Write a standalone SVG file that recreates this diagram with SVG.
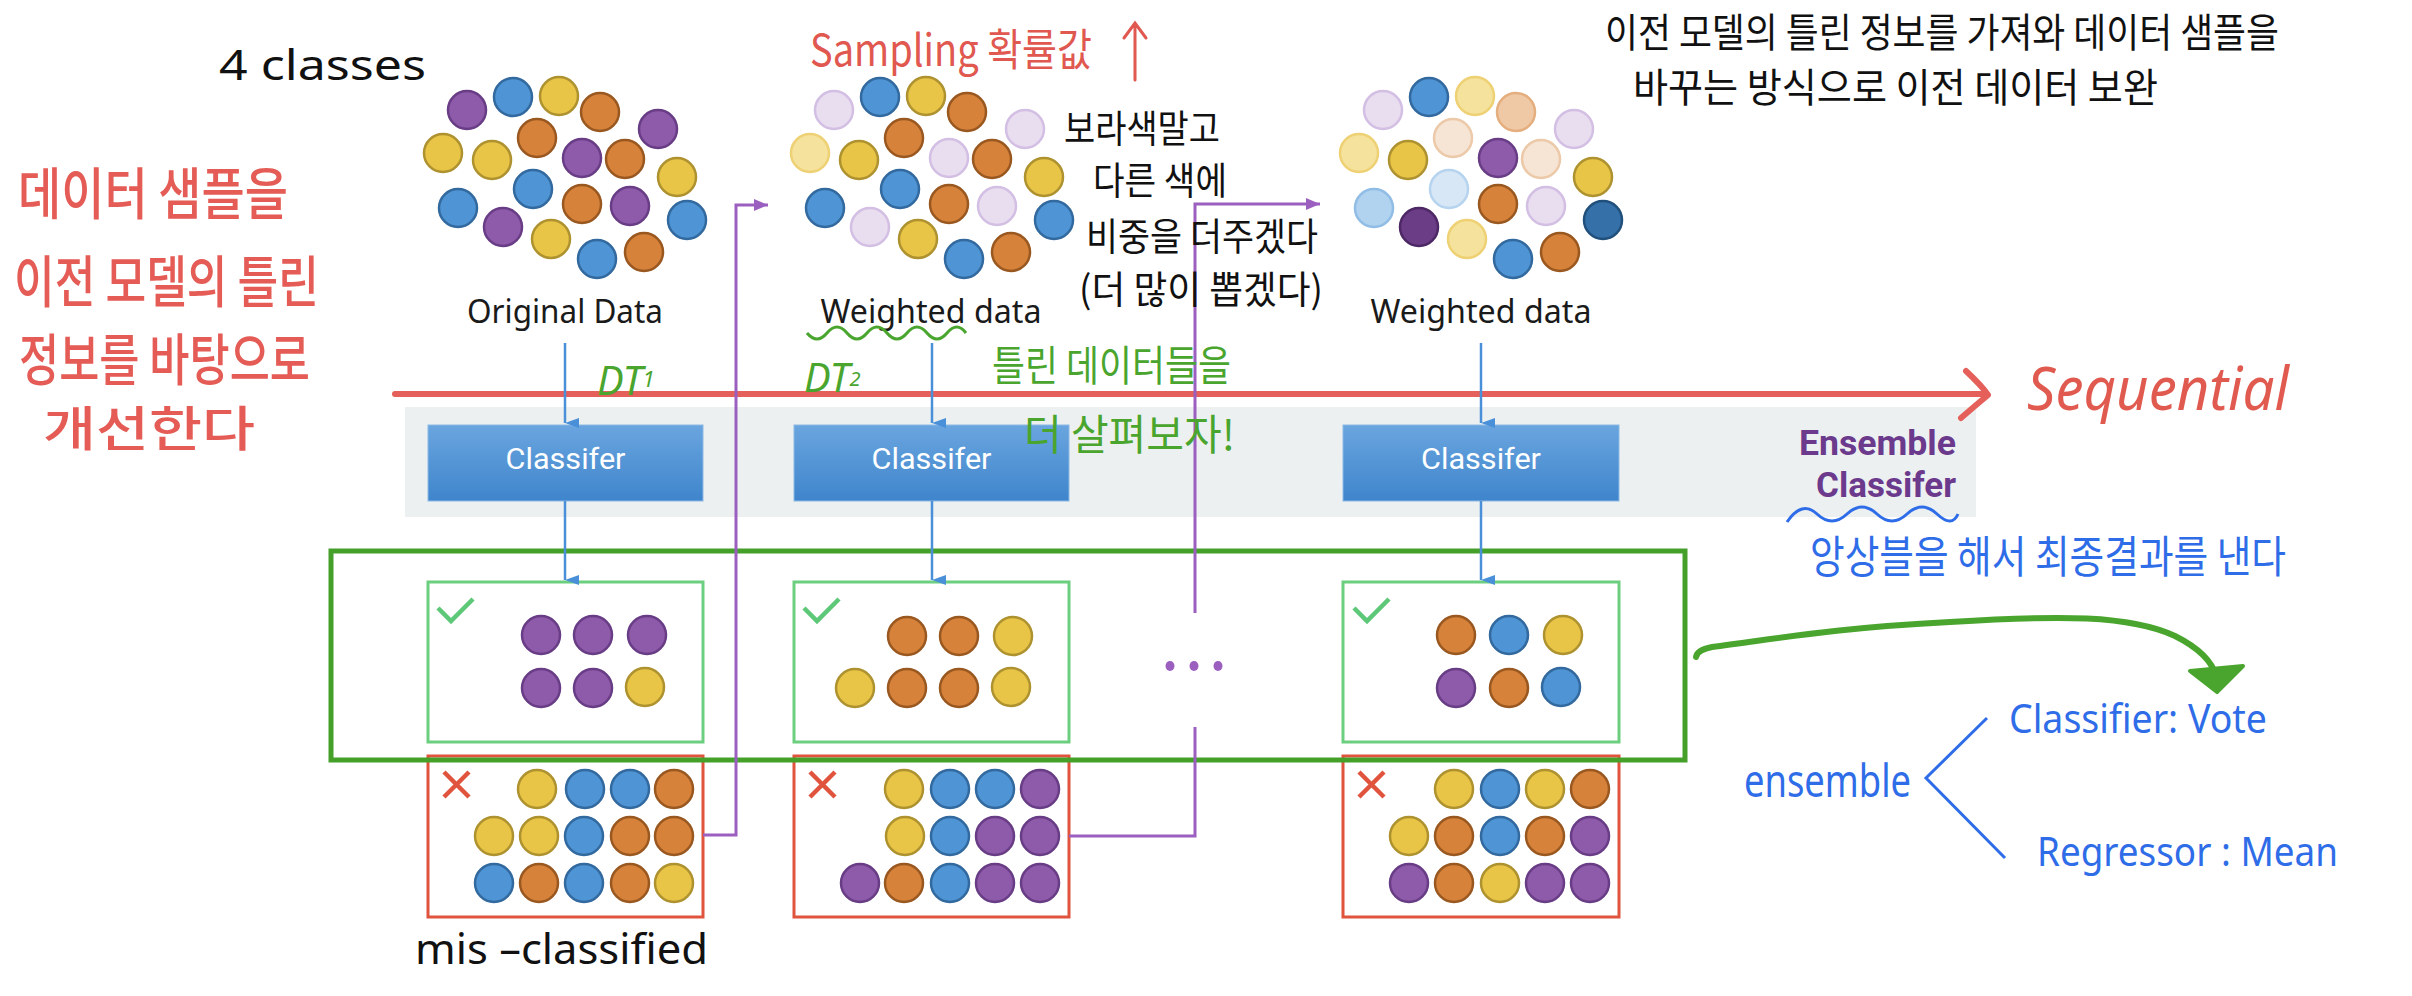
<svg xmlns="http://www.w3.org/2000/svg" width="2412" height="996" viewBox="0 0 2412 996">
<defs>
<style>
.p{fill:#8e5aaa;stroke:#693d86;stroke-width:2.5}
.b{fill:#4f94d4;stroke:#32699e;stroke-width:2.5}
.y{fill:#e8c547;stroke:#ae922f;stroke-width:2.5}
.o{fill:#d6823a;stroke:#9a5821;stroke-width:2.5}
.lp{fill:#e9ddf0;stroke:#d4bfe4;stroke-width:2.5}
.ly{fill:#f5e29c;stroke:#eed174;stroke-width:2.5}
.pe{fill:#f6e4d4;stroke:#ecc9a8;stroke-width:2.5}
.lo{fill:#efc9a5;stroke:#e4ae7e;stroke-width:2.5}
.lb{fill:#b2d3ef;stroke:#90bde6;stroke-width:2.5}
.vlb{fill:#d8e7f6;stroke:#b6d3ef;stroke-width:2.5}
.dp{fill:#6c3d87;stroke:#4d2865;stroke-width:2.5}
.db{fill:#3570a8;stroke:#22507c;stroke-width:2.5}
.lbl{font-family:"Noto Sans","Open Sans",sans-serif;font-size:32px;fill:#1a1a1a;text-anchor:middle}
.cls{font-family:Roboto,"Noto Sans",sans-serif;font-size:30px;fill:#ffffff;text-anchor:middle}
.hw{font-family:"Noto Sans","Noto Sans CJK KR",sans-serif}
.kr{font-family:"Noto Sans CJK KR","Noto Sans",sans-serif}
.ok{fill:#ffffff;stroke:#6ccf80;stroke-width:3}
.bad{fill:#ffffff;stroke:#e0533d;stroke-width:3}
.blue{stroke:#4a90d9;stroke-width:2.5;fill:none}
.purp{stroke:#9b5fc0;stroke-width:3;fill:none}
</style>
<linearGradient id="gb" x1="0" y1="0" x2="0" y2="1">
<stop offset="0" stop-color="#6aa5df"/>
<stop offset="1" stop-color="#3f85cc"/>
</linearGradient>
<marker id="ab" viewBox="0 0 10 14" refX="5" refY="14" markerWidth="10" markerHeight="14" markerUnits="userSpaceOnUse" orient="auto-start-reverse">
<path d="M0,0 L5,14 L10,0 Z" fill="#4a90d9"/>
</marker>
<marker id="ap" viewBox="0 0 14 12" refX="14" refY="6" markerWidth="14" markerHeight="12" markerUnits="userSpaceOnUse" orient="auto">
<path d="M0,0 L14,6 L0,12 Z" fill="#9b5fc0"/>
</marker>
</defs>
<rect width="2412" height="996" fill="#ffffff"/>

<!-- band -->
<rect id="band" x="405" y="407" width="1571" height="110" fill="#edf0f1"/>

<!-- Sequential arrow -->
<g id="sequential">
<path d="M395,394 H1984" stroke="#e5605a" stroke-width="6" stroke-linecap="round" fill="none"/>
<path d="M1966,371 Q1982,386 1988,395 Q1976,405 1961,418" stroke="#e5605a" stroke-width="6" stroke-linecap="round" stroke-linejoin="round" fill="none"/>
<text x="2027" y="410" class="hw" font-size="60" font-style="italic" fill="#e05a50" textLength="262" lengthAdjust="spacingAndGlyphs">Sequential</text>
</g>

<!-- data clouds -->
<g id="original-data">
<circle class="p" cx="467" cy="110" r="19"/><circle class="b" cx="513" cy="97" r="19"/><circle class="y" cx="559" cy="96" r="19"/><circle class="o" cx="600" cy="112" r="19"/><circle class="p" cx="658" cy="129" r="19"/>
<circle class="y" cx="443" cy="153" r="19"/><circle class="y" cx="492" cy="160" r="19"/><circle class="o" cx="537" cy="138" r="19"/><circle class="p" cx="582" cy="158" r="19"/><circle class="o" cx="625" cy="159" r="19"/>
<circle class="y" cx="677" cy="177" r="19"/><circle class="b" cx="533" cy="189" r="19"/><circle class="o" cx="582" cy="204" r="19"/><circle class="p" cx="630" cy="206" r="19"/><circle class="b" cx="687" cy="220" r="19"/>
<circle class="b" cx="458" cy="208" r="19"/><circle class="p" cx="503" cy="227" r="19"/><circle class="y" cx="551" cy="239" r="19"/><circle class="b" cx="597" cy="259" r="19"/><circle class="o" cx="644" cy="252" r="19"/>
<text class="lbl" x="565" y="323" textLength="196" lengthAdjust="spacingAndGlyphs">Original Data</text>
</g>
<g id="weighted-data-1" transform="translate(367,0)">
<circle class="lp" cx="467" cy="110" r="19"/><circle class="b" cx="513" cy="97" r="19"/><circle class="y" cx="559" cy="96" r="19"/><circle class="o" cx="600" cy="112" r="19"/><circle class="lp" cx="658" cy="129" r="19"/>
<circle class="ly" cx="443" cy="153" r="19"/><circle class="y" cx="492" cy="160" r="19"/><circle class="o" cx="537" cy="138" r="19"/><circle class="lp" cx="582" cy="158" r="19"/><circle class="o" cx="625" cy="159" r="19"/>
<circle class="y" cx="677" cy="177" r="19"/><circle class="b" cx="533" cy="189" r="19"/><circle class="o" cx="582" cy="204" r="19"/><circle class="lp" cx="630" cy="206" r="19"/><circle class="b" cx="687" cy="220" r="19"/>
<circle class="b" cx="458" cy="208" r="19"/><circle class="lp" cx="503" cy="227" r="19"/><circle class="y" cx="551" cy="239" r="19"/><circle class="b" cx="597" cy="259" r="19"/><circle class="o" cx="644" cy="252" r="19"/>
<text class="lbl" x="564" y="323" textLength="221" lengthAdjust="spacingAndGlyphs">Weighted data</text>
</g>
<g id="weighted-data-2" transform="translate(916,0)">
<circle class="lp" cx="467" cy="110" r="19"/><circle class="b" cx="513" cy="97" r="19"/><circle class="ly" cx="559" cy="96" r="19"/><circle class="lo" cx="600" cy="112" r="19"/><circle class="lp" cx="658" cy="129" r="19"/>
<circle class="ly" cx="443" cy="153" r="19"/><circle class="y" cx="492" cy="160" r="19"/><circle class="pe" cx="537" cy="138" r="19"/><circle class="p" cx="582" cy="158" r="19"/><circle class="pe" cx="625" cy="159" r="19"/>
<circle class="y" cx="677" cy="177" r="19"/><circle class="vlb" cx="533" cy="189" r="19"/><circle class="o" cx="582" cy="204" r="19"/><circle class="lp" cx="630" cy="206" r="19"/><circle class="db" cx="687" cy="220" r="19"/>
<circle class="lb" cx="458" cy="208" r="19"/><circle class="dp" cx="503" cy="227" r="19"/><circle class="ly" cx="551" cy="239" r="19"/><circle class="b" cx="597" cy="259" r="19"/><circle class="o" cx="644" cy="252" r="19"/>
<text class="lbl" x="565" y="323" textLength="221" lengthAdjust="spacingAndGlyphs">Weighted data</text>
</g>

<!-- classifiers -->
<g id="classifier-1"><rect x="428" y="425" width="275" height="76" fill="url(#gb)" stroke="#8cb9e6" stroke-width="1"/><text class="cls" x="565.5" y="469" textLength="120" lengthAdjust="spacingAndGlyphs">Classifer</text></g>
<g id="classifier-2"><rect x="794" y="425" width="275" height="76" fill="url(#gb)" stroke="#8cb9e6" stroke-width="1"/><text class="cls" x="931.5" y="469" textLength="120" lengthAdjust="spacingAndGlyphs">Classifer</text></g>
<g id="classifier-3"><rect x="1343" y="425" width="276" height="76" fill="url(#gb)" stroke="#8cb9e6" stroke-width="1"/><text class="cls" x="1481" y="469" textLength="120" lengthAdjust="spacingAndGlyphs">Classifer</text></g>
<g id="ensemble-label" font-family="Roboto,'Noto Sans',sans-serif" font-weight="bold" font-size="35" fill="#6b3a8c" text-anchor="end">
<text x="1956" y="455" textLength="157" lengthAdjust="spacingAndGlyphs">Ensemble</text>
<text x="1956" y="497" textLength="140" lengthAdjust="spacingAndGlyphs">Classifer</text>
</g>

<!-- result boxes -->
<g id="correct-1">
<rect class="ok" x="428" y="582" width="275" height="160"/>
<path d="M438,608 L451,621 L473,599" stroke="#5cc878" stroke-width="4.5" fill="none"/>
<circle class="p" cx="541" cy="635" r="19"/><circle class="p" cx="593" cy="635" r="19"/><circle class="p" cx="647" cy="635" r="19"/>
<circle class="p" cx="541" cy="688" r="19"/><circle class="p" cx="593" cy="688" r="19"/><circle class="y" cx="645" cy="687" r="19"/>
</g>
<g id="correct-2">
<rect class="ok" x="794" y="582" width="275" height="160"/>
<path d="M804,608 L817,621 L839,599" stroke="#5cc878" stroke-width="4.5" fill="none"/>
<circle class="o" cx="907" cy="636" r="19"/><circle class="o" cx="959" cy="636" r="19"/><circle class="y" cx="1013" cy="636" r="19"/>
<circle class="y" cx="855" cy="688" r="19"/><circle class="o" cx="907" cy="688" r="19"/><circle class="o" cx="959" cy="688" r="19"/><circle class="y" cx="1011" cy="687" r="19"/>
</g>
<g id="correct-3">
<rect class="ok" x="1343" y="582" width="276" height="160"/>
<path d="M1354,608 L1367,621 L1389,599" stroke="#5cc878" stroke-width="4.5" fill="none"/>
<circle class="o" cx="1456" cy="635" r="19"/><circle class="b" cx="1509" cy="635" r="19"/><circle class="y" cx="1563" cy="635" r="19"/>
<circle class="p" cx="1456" cy="688" r="19"/><circle class="o" cx="1509" cy="688" r="19"/><circle class="b" cx="1561" cy="687" r="19"/>
</g>
<g id="wrong-1">
<rect class="bad" x="428" y="756" width="275" height="161"/>
<path d="M444,772 L469,797 M469,772 L444,797" stroke="#e0533d" stroke-width="4.5" fill="none"/>
<circle class="y" cx="537" cy="789" r="19"/><circle class="b" cx="585" cy="789" r="19"/><circle class="b" cx="630" cy="789" r="19"/><circle class="o" cx="674" cy="789" r="19"/>
<circle class="y" cx="494" cy="836" r="19"/><circle class="y" cx="539" cy="836" r="19"/><circle class="b" cx="584" cy="836" r="19"/><circle class="o" cx="630" cy="836" r="19"/><circle class="o" cx="674" cy="836" r="19"/>
<circle class="b" cx="494" cy="883" r="19"/><circle class="o" cx="539" cy="883" r="19"/><circle class="b" cx="584" cy="883" r="19"/><circle class="o" cx="630" cy="883" r="19"/><circle class="y" cx="674" cy="883" r="19"/>
</g>
<g id="wrong-2">
<rect class="bad" x="794" y="756" width="275" height="161"/>
<path d="M810,772 L835,797 M835,772 L810,797" stroke="#e0533d" stroke-width="4.5" fill="none"/>
<circle class="y" cx="904" cy="789" r="19"/><circle class="b" cx="950" cy="789" r="19"/><circle class="b" cx="995" cy="789" r="19"/><circle class="p" cx="1040" cy="789" r="19"/>
<circle class="y" cx="905" cy="836" r="19"/><circle class="b" cx="950" cy="836" r="19"/><circle class="p" cx="995" cy="836" r="19"/><circle class="p" cx="1040" cy="836" r="19"/>
<circle class="p" cx="860" cy="883" r="19"/><circle class="o" cx="904" cy="883" r="19"/><circle class="b" cx="950" cy="883" r="19"/><circle class="p" cx="995" cy="883" r="19"/><circle class="p" cx="1040" cy="883" r="19"/>
</g>
<g id="wrong-3">
<rect class="bad" x="1343" y="756" width="276" height="161"/>
<path d="M1359,772 L1384,797 M1384,772 L1359,797" stroke="#e0533d" stroke-width="4.5" fill="none"/>
<circle class="y" cx="1454" cy="789" r="19"/><circle class="b" cx="1500" cy="789" r="19"/><circle class="y" cx="1545" cy="789" r="19"/><circle class="o" cx="1590" cy="789" r="19"/>
<circle class="y" cx="1409" cy="836" r="19"/><circle class="o" cx="1454" cy="836" r="19"/><circle class="b" cx="1500" cy="836" r="19"/><circle class="o" cx="1545" cy="836" r="19"/><circle class="p" cx="1590" cy="836" r="19"/>
<circle class="p" cx="1409" cy="883" r="19"/><circle class="o" cx="1454" cy="883" r="19"/><circle class="y" cx="1500" cy="883" r="19"/><circle class="p" cx="1545" cy="883" r="19"/><circle class="p" cx="1590" cy="883" r="19"/>
</g>

<!-- ensemble frame -->
<rect id="ensemble-frame" x="331" y="551" width="1354" height="209" fill="none" stroke="#45a02a" stroke-width="5"/>

<!-- connectors -->
<g id="connectors">
<path class="blue" d="M565,343 V423" marker-end="url(#ab)"/>
<path class="blue" d="M565,501 V580" marker-end="url(#ab)"/>
<path class="blue" d="M932,343 V423" marker-end="url(#ab)"/>
<path class="blue" d="M932,501 V580" marker-end="url(#ab)"/>
<path class="blue" d="M1481,343 V423" marker-end="url(#ab)"/>
<path class="blue" d="M1481,501 V580" marker-end="url(#ab)"/>
<path class="purp" d="M703,835 H736 V205 H768" marker-end="url(#ap)"/>
<path class="purp" d="M1069,836 H1195 V727"/>
<path class="purp" d="M1195,613 V204 H1320" marker-end="url(#ap)"/>
<g fill="#9b5fc0"><ellipse cx="1170" cy="666" rx="4.5" ry="5"/><ellipse cx="1194" cy="666" rx="4.5" ry="5"/><ellipse cx="1218" cy="666" rx="4.5" ry="5"/></g>
<path d="M1696,657 Q1697,650 1712,647 C1770,640 1830,628 1950,622 C2060,615 2130,615 2175,636 C2203,650 2213,665 2216,676" stroke="#4aa52e" stroke-width="6" stroke-linecap="round" fill="none"/>
<path d="M2190,671 L2243,666 L2217,692 Z" fill="#4aa52e" stroke="#4aa52e" stroke-width="4" stroke-linejoin="round"/>
<path d="M1987,718 L1926,778 L2005,858" stroke="#2f6de8" stroke-width="3" fill="none"/>
</g>

<!-- annotations -->
<g id="annotations">
<text x="219" y="80" class="hw" font-size="42" fill="#111" textLength="207" lengthAdjust="spacingAndGlyphs">4 classes</text>
<g class="kr" fill="#e45c55" font-size="56" font-weight="500">
<text x="18" y="214" textLength="270" lengthAdjust="spacingAndGlyphs">데이터 샘플을</text>
<text x="14" y="302" textLength="305" lengthAdjust="spacingAndGlyphs">이전 모델의 틀린</text>
<text x="19" y="380" textLength="291" lengthAdjust="spacingAndGlyphs">정보를 바탕으로</text>
<text x="43" y="446" font-size="48" textLength="212" lengthAdjust="spacingAndGlyphs">개선한다</text>
</g>
<text x="810" y="66" class="kr" font-size="44" fill="#e0584f" textLength="282" lengthAdjust="spacingAndGlyphs">Sampling 확률값</text>
<path d="M1135,80 V24 M1124,38 L1135,23 L1146,38" stroke="#e0584f" stroke-width="3" fill="none" stroke-linecap="round"/>
<g class="kr" fill="#111" font-size="38">
<text x="1064" y="142" textLength="156" lengthAdjust="spacingAndGlyphs">보라색말고</text>
<text x="1093" y="194" textLength="134" lengthAdjust="spacingAndGlyphs">다른 색에</text>
<text x="1086" y="250" textLength="232" lengthAdjust="spacingAndGlyphs">비중을 더주겠다</text>
<text x="1079" y="303" textLength="244" lengthAdjust="spacingAndGlyphs">(더 많이 뽑겠다)</text>
</g>
<g class="kr" fill="#111" font-size="40">
<text x="1605" y="47" textLength="674" lengthAdjust="spacingAndGlyphs">이전 모델의 틀린 정보를 가져와 데이터 샘플을</text>
<text x="1633" y="102" textLength="525" lengthAdjust="spacingAndGlyphs">바꾸는 방식으로 이전 데이터 보완</text>
</g>
<g fill="#4aa52e">
<text x="597" y="395" class="hw" font-size="40" font-style="italic">DT<tspan font-size="22" dy="-8">1</tspan></text>
<text x="804" y="392" class="hw" font-size="40" font-style="italic">DT<tspan font-size="20" dy="-6">2</tspan></text>
<text x="992" y="381" class="kr" font-size="42" textLength="239" lengthAdjust="spacingAndGlyphs">틀린 데이터들을</text>
<text x="1024" y="450" class="kr" font-size="42" textLength="211" lengthAdjust="spacingAndGlyphs">더 살펴보자!</text>
</g>
<path d="M807,333 q10,12 20,0 t20,0 t20,0 t20,0 t20,0 t20,0 t20,0 t19,0" stroke="#4aa52e" stroke-width="3" fill="none"/>
<path d="M1787,522 q15,-22 30,-8 t30,0 t30,0 t30,0 t30,0 t21,0" stroke="#2f6de8" stroke-width="3" fill="none"/>
<g fill="#2f6de8">
<text x="1810" y="573" class="kr" font-size="44" textLength="476" lengthAdjust="spacingAndGlyphs">앙상블을 해서 최종결과를 낸다</text>
<text x="1744" y="797" class="hw" font-size="46" textLength="167" lengthAdjust="spacingAndGlyphs">ensemble</text>
<text x="2009" y="733" class="hw" font-size="40" textLength="258" lengthAdjust="spacingAndGlyphs">Classifier: Vote</text>
<text x="2037" y="866" class="hw" font-size="40" textLength="301" lengthAdjust="spacingAndGlyphs">Regressor : Mean</text>
</g>
<text x="415" y="964" class="hw" font-size="42" fill="#111" textLength="293" lengthAdjust="spacingAndGlyphs">mis –classified</text>
</g>
</svg>
